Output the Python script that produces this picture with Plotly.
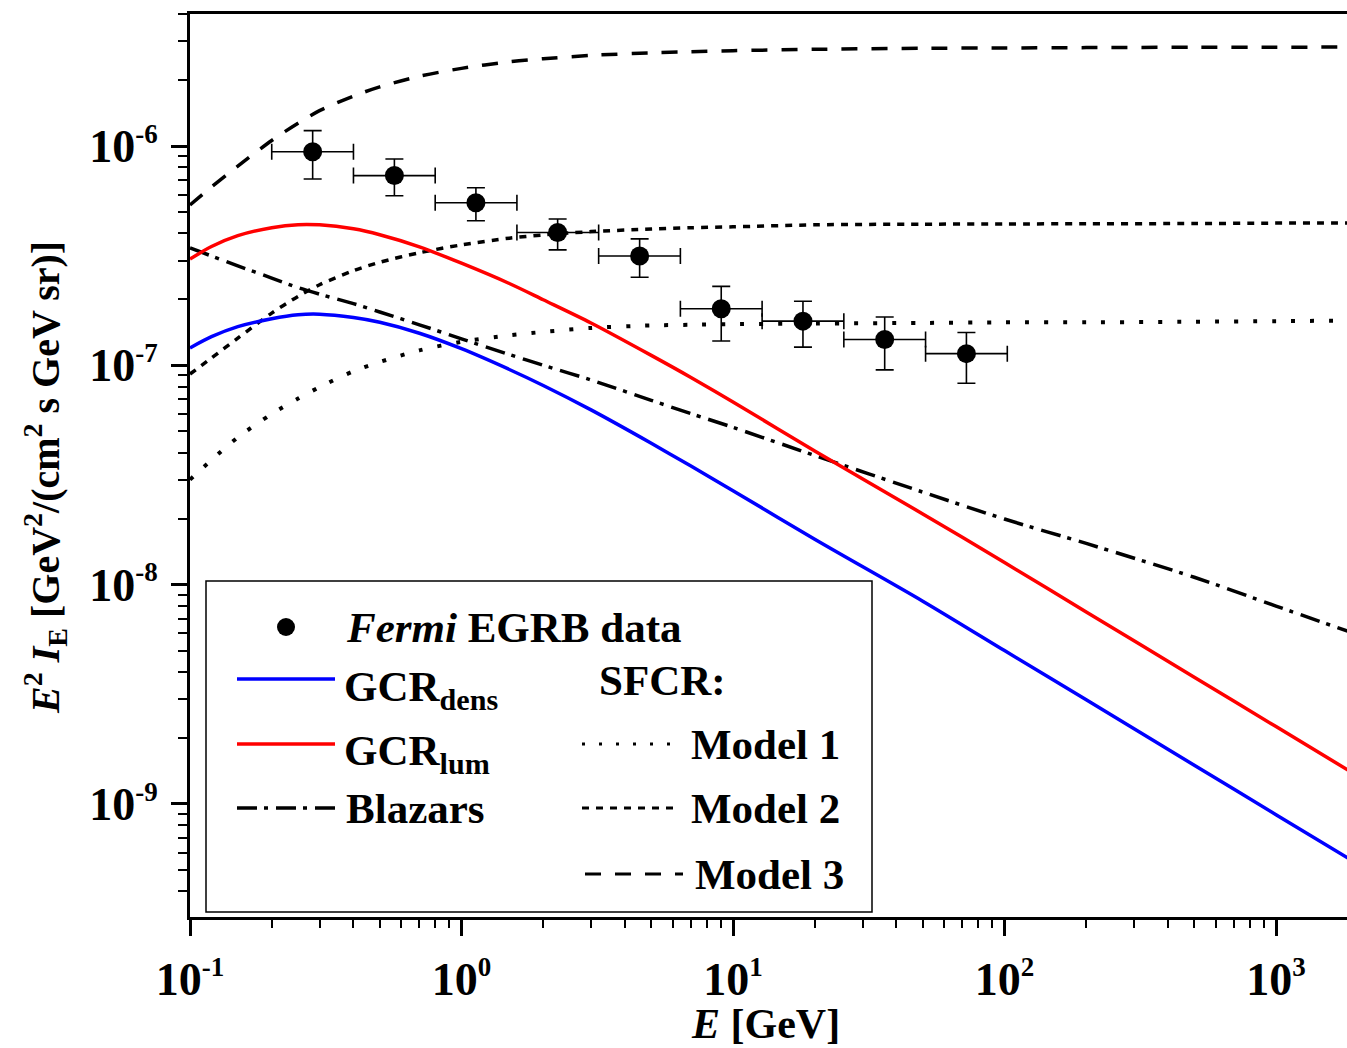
import plotly.graph_objects as go

# ---------------- data ----------------
# Fermi EGRB data points
E_data = [0.283, 0.566, 1.13, 2.26, 4.53, 9.05, 18.1, 36.2, 72.4]
E_bin_lo = [0.2, 0.4, 0.8, 1.6, 3.2, 6.4, 12.8, 25.6, 51.2]
E_bin_hi = [0.4, 0.8, 1.6, 3.2, 6.4, 12.8, 25.6, 51.2, 102.4]
flux = [9.42e-7, 7.33e-7, 5.51e-7, 4.03e-7, 3.15e-7, 1.81e-7, 1.59e-7, 1.31e-7, 1.13e-7]
flux_hi = [1.175e-6, 8.73e-7, 6.45e-7, 4.65e-7, 3.77e-7, 2.29e-7, 1.96e-7, 1.66e-7, 1.41e-7]
flux_lo = [7.07e-7, 5.93e-7, 4.56e-7, 3.36e-7, 2.52e-7, 1.29e-7, 1.21e-7, 9.53e-8, 8.28e-8]

# model curves, sampled on a common energy grid [GeV]
E_grid = [0.1, 0.12, 0.15, 0.2, 0.25, 0.3, 0.4, 0.5, 0.7, 1, 1.5, 2, 3, 5, 7,
          10, 20, 50, 100, 200, 500, 1000, 2000]
gcr_dens = [1.20e-7, 1.35e-7, 1.50e-7, 1.63e-7, 1.70e-7, 1.71e-7, 1.65e-7, 1.57e-7,
            1.40e-7, 1.19e-7, 9.57e-8, 8.09e-8, 6.26e-8, 4.41e-8, 3.47e-8,
            2.68e-8, 1.61e-8, 8.40e-9, 5.00e-9, 2.98e-9, 1.50e-9, 8.93e-10, 5.32e-10]
gcr_lum = [3.05e-7, 3.48e-7, 3.90e-7, 4.24e-7, 4.38e-7, 4.37e-7, 4.19e-7, 3.94e-7,
           3.47e-7, 2.92e-7, 2.36e-7, 1.99e-7, 1.56e-7, 1.11e-7, 8.80e-8,
           6.80e-8, 4.07e-8, 2.10e-8, 1.26e-8, 7.50e-9, 3.78e-9, 2.25e-9, 1.34e-9]
blazars = [3.43e-7, 3.15e-7, 2.84e-7, 2.50e-7, 2.26e-7, 2.11e-7, 1.91e-7, 1.75e-7,
           1.53e-7, 1.32e-7, 1.12e-7, 1.00e-7, 8.57e-8, 6.92e-8, 6.02e-8,
           5.21e-8, 3.88e-8, 2.64e-8, 1.99e-8, 1.54e-8, 1.08e-8, 7.98e-9, 5.91e-9]
sfcr_model1 = [3.01e-8, 3.70e-8, 4.69e-8, 6.00e-8, 7.05e-8, 7.95e-8, 9.40e-8, 1.035e-7,
               1.17e-7, 1.28e-7, 1.37e-7, 1.42e-7, 1.48e-7, 1.52e-7, 1.53e-7,
               1.54e-7, 1.55e-7, 1.56e-7, 1.57e-7, 1.57e-7, 1.58e-7, 1.59e-7, 1.60e-7]
sfcr_model2 = [9.12e-8, 1.08e-7, 1.33e-7, 1.73e-7, 2.06e-7, 2.33e-7, 2.70e-7, 2.95e-7,
               3.26e-7, 3.54e-7, 3.80e-7, 3.93e-7, 4.07e-7, 4.18e-7, 4.24e-7,
               4.28e-7, 4.37e-7, 4.40e-7, 4.41e-7, 4.42e-7, 4.43e-7, 4.45e-7, 4.45e-7]
sfcr_model3 = [5.38e-7, 6.51e-7, 8.10e-7, 1.06e-6, 1.27e-6, 1.45e-6, 1.69e-6, 1.86e-6,
               2.08e-6, 2.26e-6, 2.42e-6, 2.50e-6, 2.59e-6, 2.66e-6, 2.69e-6,
               2.72e-6, 2.76e-6, 2.79e-6, 2.80e-6, 2.81e-6, 2.82e-6, 2.82e-6, 2.83e-6]

# tick labels
x_tick_vals = [0.1, 1, 10, 100, 1000]
x_tick_exp = ["-1", "0", "1", "2", "3"]
y_tick_vals = [1e-9, 1e-8, 1e-7, 1e-6]
y_tick_exp = ["-9", "-8", "-7", "-6"]

# ---------------- layout constants ----------------
W, H = 1347, 1048
ML, MR, MT, MB = 190, 0, 14, 131
PW, PH = W - ML - MR, H - MT - MB
FONT = "Liberation Serif"


def px(xp):
    return (xp - ML) / PW


def py(yp):
    return (H - MB - yp) / PH


def pow_label(e):
    return "10<sup><span style='font-size:27px'>" + e + "</span></sup>"


x_minor = [m * 10.0 ** k for k in range(-1, 4) for m in range(2, 10)]
y_minor = [m * 10.0 ** k for k in range(-10, -5) for m in range(2, 10)]

DASH_M1 = "4px,15px"
DASH_M2 = "7px,7px"
DASH_M3 = "16px,14px"
DASH_BL = "20px,7px,4px,8px"

fig = go.Figure()

curves = [
    (sfcr_model3, "black", 3.5, DASH_M3),
    (sfcr_model2, "black", 3.5, DASH_M2),
    (sfcr_model1, "black", 4, DASH_M1),
    (blazars, "black", 3.5, DASH_BL),
    (gcr_dens, "rgb(0,0,255)", 3.5, "solid"),
    (gcr_lum, "rgb(255,0,0)", 3.5, "solid"),
]
for yv, col, w, d in curves:
    fig.add_trace(go.Scatter(
        x=E_grid, y=yv, mode="lines",
        line=dict(color=col, width=w, dash=d, shape="spline", smoothing=0.8),
        showlegend=False, hoverinfo="skip"))

fig.add_trace(go.Scatter(
    x=E_data, y=flux, mode="markers",
    marker=dict(size=19, color="black", symbol="circle"),
    error_x=dict(type="data", symmetric=False,
                 array=[h - e for h, e in zip(E_bin_hi, E_data)],
                 arrayminus=[e - l for e, l in zip(E_data, E_bin_lo)],
                 thickness=1.6, width=8, color="black"),
    error_y=dict(type="data", symmetric=False,
                 array=[h - f for h, f in zip(flux_hi, flux)],
                 arrayminus=[f - l for f, l in zip(flux, flux_lo)],
                 thickness=1.6, width=9, color="black"),
    showlegend=False, hoverinfo="skip"))

tickfont = dict(family=FONT, size=46, color="black", weight="bold")

fig.update_layout(
    width=W, height=H,
    margin=dict(l=ML, r=MR, t=MT, b=MB, pad=0),
    paper_bgcolor="white", plot_bgcolor="white",
    showlegend=False,
    xaxis=dict(
        type="log", range=[-1, 3.2615], showline=True, linewidth=3,
        linecolor="black", mirror=True, ticks="outside", ticklen=16,
        tickwidth=2.5, tickcolor="black", tickvals=x_tick_vals,
        ticktext=[pow_label(e) for e in x_tick_exp], tickfont=tickfont,
        showgrid=False, zeroline=False, ticklabelstandoff=4,
        minor=dict(tickvals=x_minor, ticks="outside", ticklen=8,
                   tickwidth=2, tickcolor="black", showgrid=False)),
    yaxis=dict(
        type="log", range=[-9.516, -5.398], showline=True, linewidth=3,
        linecolor="black", mirror=False, ticks="outside", ticklen=16,
        tickwidth=2.5, tickcolor="black", tickvals=y_tick_vals,
        ticktext=[pow_label(e) for e in y_tick_exp], tickfont=tickfont,
        showgrid=False, zeroline=False, ticklabelstandoff=4,
        minor=dict(tickvals=y_minor, ticks="outside", ticklen=9,
                   tickwidth=2, tickcolor="black", showgrid=False)),
)

# axis titles
fig.add_annotation(
    xref="paper", yref="paper", x=px(765), y=py(1024),
    text="<i>E</i> [GeV]", showarrow=False, xanchor="center", yanchor="middle",
    font=dict(family=FONT, size=42, color="black", weight="bold"))
fig.add_annotation(
    xref="paper", yref="paper", x=px(45), y=py(478), textangle=-90,
    text="<i>E</i><sup>2</sup> <i>I</i><sub>E</sub> [GeV<sup>2</sup>/(cm<sup>2</sup> s GeV sr)]",
    showarrow=False, xanchor="center", yanchor="middle",
    font=dict(family=FONT, size=40, color="black", weight="bold"))

# ---------------- legend (drawn by hand) ----------------
shapes = []
shapes.append(dict(type="rect", xref="paper", yref="paper",
                   x0=px(206), x1=px(872), y0=py(912), y1=py(581),
                   line=dict(color="black", width=1.5), fillcolor="white", layer="above"))
shapes.append(dict(type="circle", xref="paper", yref="paper",
                   x0=px(277), x1=px(295), y0=py(636), y1=py(618),
                   line=dict(color="black", width=0), fillcolor="black", layer="above"))


def leg_line(x0, x1, y, color, width, dash):
    shapes.append(dict(type="line", xref="paper", yref="paper",
                       x0=px(x0), x1=px(x1), y0=py(y), y1=py(y),
                       line=dict(color=color, width=width, dash=dash), layer="above"))


leg_line(237, 335, 679, "rgb(0,0,255)", 3.5, "solid")
leg_line(237, 335, 744, "rgb(255,0,0)", 3.5, "solid")
leg_line(237, 335, 808, "black", 3.5, DASH_BL)
leg_line(582, 680, 744, "black", 3, "3px,14px")
leg_line(582, 680, 808, "black", 3, DASH_M2)
leg_line(585, 683, 874, "black", 3, DASH_M3)
fig.update_layout(shapes=shapes)

leg_font = dict(family=FONT, size=43, color="black", weight="bold")
legend_texts = [
    (344, 627, "<i>Fermi</i> EGRB data"),
    (342, 690, "GCR<sub>dens</sub>"),
    (597, 680, "SFCR:"),
    (342, 754, "GCR<sub>lum</sub>"),
    (689, 744, "Model 1"),
    (344, 808, "Blazars"),
    (689, 808, "Model 2"),
    (693, 874, "Model 3"),
]
for xp, yp, t in legend_texts:
    fig.add_annotation(xref="paper", yref="paper", x=px(xp), y=py(yp), text=t,
                       showarrow=False, xanchor="left", yanchor="middle",
                       font=leg_font)

fig.write_html(
    "out.html",
    config={"displayModeBar": False},
    post_script="document.body.style.margin='0px';document.body.style.overflow='hidden';")
